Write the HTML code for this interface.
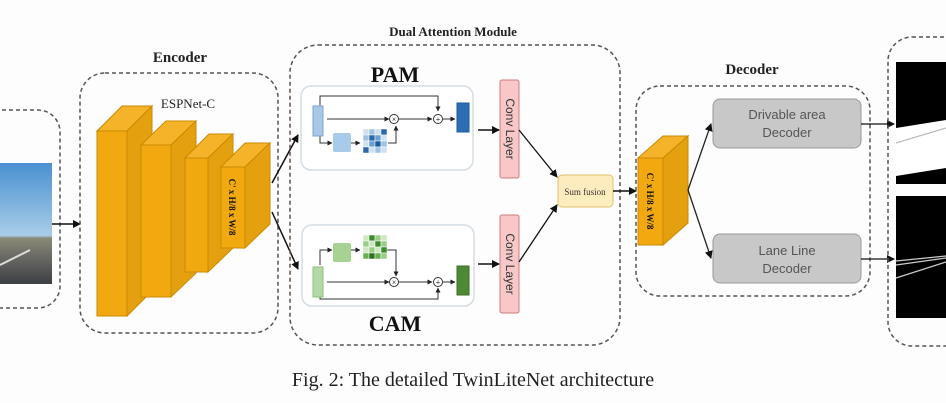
<!DOCTYPE html>
<html><head><meta charset="utf-8"><style>
html,body{margin:0;padding:0;background:#fdfdfd;width:946px;height:403px;overflow:hidden}
svg{display:block}
</style></head><body>
<svg width="946" height="403" viewBox="0 0 946 403" xmlns="http://www.w3.org/2000/svg" font-family="Liberation Serif, serif">
<defs>
<marker id="a" markerWidth="8" markerHeight="8" refX="7" refY="4" orient="auto" markerUnits="userSpaceOnUse"><path d="M0,0 L8,4 L0,8 z" fill="#111"/></marker>
<marker id="s" markerWidth="5" markerHeight="5" refX="4.5" refY="2.5" orient="auto" markerUnits="userSpaceOnUse"><path d="M0,0 L5,2.5 L0,5 z" fill="#222"/></marker>
<linearGradient id="sky" x1="0" y1="0" x2="0" y2="1"><stop offset="0" stop-color="#4a90d0"/><stop offset="0.6" stop-color="#a9cde8"/><stop offset="0.62" stop-color="#8a8a78"/><stop offset="0.75" stop-color="#6f6f68"/><stop offset="1" stop-color="#3c3f44"/></linearGradient>
</defs>
<!-- input -->
<rect x="-20" y="110" width="80" height="198" rx="22" fill="none" stroke="#555" stroke-width="1.5" stroke-dasharray="4,3"/>
<rect x="0" y="163" width="52" height="121" fill="url(#sky)"/>
<line x1="0" y1="265" x2="30" y2="250" stroke="#ddd" stroke-width="2"/>
<line x1="52" y1="224" x2="80" y2="224" stroke="#111" stroke-width="1.5" marker-end="url(#a)"/>
<!-- encoder -->
<text x="180" y="62" font-size="15" font-weight="bold" text-anchor="middle" fill="#222">Encoder</text>
<rect x="80" y="73" width="198" height="260" rx="25" fill="none" stroke="#555" stroke-width="1.5" stroke-dasharray="4,3"/>
<text x="188" y="108" font-size="13" text-anchor="middle" fill="#222">ESPNet-C</text>
<g stroke="#c98a00" stroke-width="1">
<polygon points="97,131 122,106 152,106 127,131" fill="#f5b32a"/><polygon points="127,131 152,106 152,291 127,316" fill="#e5a010"/><rect x="97" y="131" width="30" height="185" fill="#f2a90f"/>
<polygon points="141,145 166,121 196,121 171,145" fill="#f5b32a"/><polygon points="171,145 196,121 196,273 171,297" fill="#e5a010"/><rect x="141" y="145" width="30" height="152" fill="#f2a90f"/>
<polygon points="185,158 209,134 233,134 208,158" fill="#f5b32a"/><polygon points="208,158 233,134 233,248 208,272" fill="#e5a010"/><rect x="185" y="158" width="23" height="114" fill="#f2a90f"/>
<polygon points="221,167 245,143 270,143 245,167" fill="#f5b32a"/><polygon points="245,167 270,143 270,224 245,248" fill="#e5a010"/><rect x="221" y="167" width="24" height="81" fill="#f2a90f"/>
</g>
<text transform="translate(229,207) rotate(90)" font-size="9" font-weight="bold" text-anchor="middle" fill="#111">C' x H/8 x W/8</text>
<line x1="272" y1="183" x2="298" y2="135" stroke="#111" stroke-width="1.5" marker-end="url(#a)"/>
<line x1="272" y1="212" x2="298" y2="269" stroke="#111" stroke-width="1.5" marker-end="url(#a)"/>
<!-- DAM -->
<text x="453" y="36" font-size="13" font-weight="bold" text-anchor="middle" fill="#222">Dual Attention Module</text>
<rect x="290" y="45" width="330" height="300" rx="28" fill="none" stroke="#555" stroke-width="1.5" stroke-dasharray="4,3"/>
<text x="395" y="82" font-size="22" font-weight="bold" text-anchor="middle" fill="#111">PAM</text>
<text x="395" y="331" font-size="22" font-weight="bold" text-anchor="middle" fill="#111">CAM</text>
<rect x="301" y="86" width="172" height="84" rx="10" fill="#fff" stroke="#d4dde4" stroke-width="1.5"/>
<rect x="302" y="225" width="172" height="81" rx="10" fill="#fff" stroke="#d4dde4" stroke-width="1.5"/>
<!-- PAM content -->
<g stroke="#333" stroke-width="1" fill="none">
<polyline points="320,108 320,96 438,96 438,111" marker-end="url(#s)"/>
<line x1="327" y1="119" x2="389" y2="119" marker-end="url(#s)"/>
<line x1="399" y1="119" x2="432" y2="119" marker-end="url(#s)"/>
<line x1="443" y1="119" x2="455" y2="119" marker-end="url(#s)"/>
<polyline points="320,135 320,143 332,143" marker-end="url(#s)"/>
<line x1="350" y1="143" x2="360" y2="143" marker-end="url(#s)"/>
<polyline points="388,143 396,143 396,126" marker-end="url(#s)"/>
</g>
<rect x="313" y="106" width="10" height="30" fill="#a9c8e8" stroke="#7ea5cc"/>
<rect x="333" y="133" width="18" height="19" rx="2" fill="#a9cbea"/>
<g stroke="#fff" stroke-width="0.5">
<rect x="363" y="129" width="6" height="6" fill="#cfe0f2"/><rect x="369" y="129" width="6" height="6" fill="#9ec2e6"/><rect x="375" y="129" width="6" height="6" fill="#cfe0f2"/><rect x="381" y="129" width="6" height="6" fill="#2a66a8"/>
<rect x="363" y="135" width="6" height="6" fill="#9ec2e6"/><rect x="369" y="135" width="6" height="6" fill="#2a66a8"/><rect x="375" y="135" width="6" height="6" fill="#6a9fd2"/><rect x="381" y="135" width="6" height="6" fill="#cfe0f2"/>
<rect x="363" y="141" width="6" height="6" fill="#cfe0f2"/><rect x="369" y="141" width="6" height="6" fill="#6a9fd2"/><rect x="375" y="141" width="6" height="6" fill="#1f5a9a"/><rect x="381" y="141" width="6" height="6" fill="#9ec2e6"/>
<rect x="363" y="147" width="6" height="6" fill="#2a66a8"/><rect x="369" y="147" width="6" height="6" fill="#cfe0f2"/><rect x="375" y="147" width="6" height="6" fill="#9ec2e6"/><rect x="381" y="147" width="6" height="6" fill="#cfe0f2"/>
</g>
<circle cx="394" cy="119" r="4.5" fill="#fff" stroke="#333"/><text x="394" y="122" font-size="8" text-anchor="middle">×</text>
<circle cx="438" cy="119" r="4.5" fill="#fff" stroke="#333"/><text x="438" y="122" font-size="8" text-anchor="middle">+</text>
<rect x="457" y="103" width="12" height="29" fill="#2e6db4" stroke="#1f5a9a"/>
<!-- CAM content -->
<g stroke="#333" stroke-width="1" fill="none">
<polyline points="320,265 320,250 332,250" marker-end="url(#s)"/>
<line x1="350" y1="250" x2="360" y2="250" marker-end="url(#s)"/>
<polyline points="386,250 396,250 396,276" marker-end="url(#s)"/>
<line x1="327" y1="282" x2="389" y2="282" marker-end="url(#s)"/>
<line x1="399" y1="282" x2="432" y2="282" marker-end="url(#s)"/>
<line x1="443" y1="282" x2="455" y2="282" marker-end="url(#s)"/>
<polyline points="320,296 320,299 438,299 438,288" marker-end="url(#s)"/>
</g>
<rect x="313" y="267" width="10" height="30" fill="#b5d9a6" stroke="#8fbf7a"/>
<rect x="333" y="243" width="18" height="19" rx="2" fill="#a6d394"/>
<g stroke="#fff" stroke-width="0.5">
<rect x="363" y="235" width="6" height="6" fill="#cfe8c2"/><rect x="369" y="235" width="6" height="6" fill="#3f8a2e"/><rect x="375" y="235" width="6" height="6" fill="#9ccd86"/><rect x="381" y="235" width="6" height="6" fill="#cfe8c2"/>
<rect x="363" y="241" width="6" height="6" fill="#9ccd86"/><rect x="369" y="241" width="6" height="6" fill="#cfe8c2"/><rect x="375" y="241" width="6" height="6" fill="#3f8a2e"/><rect x="381" y="241" width="6" height="6" fill="#9ccd86"/>
<rect x="363" y="247" width="6" height="6" fill="#cfe8c2"/><rect x="369" y="247" width="6" height="6" fill="#9ccd86"/><rect x="375" y="247" width="6" height="6" fill="#cfe8c2"/><rect x="381" y="247" width="6" height="6" fill="#3f8a2e"/>
<rect x="363" y="253" width="6" height="6" fill="#6ab052"/><rect x="369" y="253" width="6" height="6" fill="#2e7020"/><rect x="375" y="253" width="6" height="6" fill="#6ab052"/><rect x="381" y="253" width="6" height="6" fill="#9ccd86"/>
</g>
<circle cx="394" cy="282" r="4.5" fill="#fff" stroke="#333"/><text x="394" y="285" font-size="8" text-anchor="middle">×</text>
<circle cx="438" cy="282" r="4.5" fill="#fff" stroke="#333"/><text x="438" y="285" font-size="8" text-anchor="middle">+</text>
<rect x="457" y="266" width="12" height="29" fill="#4e8a36" stroke="#3a7025"/>
<!-- conv layers -->
<line x1="478" y1="130" x2="499" y2="130" stroke="#111" stroke-width="1.5" marker-end="url(#a)"/>
<line x1="478" y1="264" x2="499" y2="264" stroke="#111" stroke-width="1.5" marker-end="url(#a)"/>
<rect x="500" y="80" width="19" height="98" rx="2" fill="#f8c8c8" stroke="#d07a7a"/>
<rect x="500" y="215" width="19" height="98" rx="2" fill="#f8c8c8" stroke="#d07a7a"/>
<text transform="translate(506,129) rotate(90)" font-family="Liberation Sans, sans-serif" font-size="12" text-anchor="middle" fill="#333">Conv Layer</text>
<text transform="translate(506,264) rotate(90)" font-family="Liberation Sans, sans-serif" font-size="12" text-anchor="middle" fill="#333">Conv Layer</text>
<line x1="519" y1="130" x2="557" y2="177" stroke="#111" stroke-width="1.3" marker-end="url(#a)"/>
<line x1="519" y1="262" x2="557" y2="205" stroke="#111" stroke-width="1.3" marker-end="url(#a)"/>
<rect x="558" y="175" width="55" height="32" rx="4" fill="#fdedbe" stroke="#e0c070"/>
<text x="585" y="195" font-size="9" text-anchor="middle" fill="#333">Sum fusion</text>
<line x1="613" y1="191" x2="636" y2="191" stroke="#111" stroke-width="1.5" marker-end="url(#a)"/>
<!-- decoder -->
<text x="752" y="74" font-size="15" font-weight="bold" text-anchor="middle" fill="#222">Decoder</text>
<rect x="636" y="86" width="234" height="210" rx="24" fill="none" stroke="#555" stroke-width="1.5" stroke-dasharray="4,3"/>
<g stroke="#c98a00" stroke-width="1">
<polygon points="638,158 663,136 688,136 663,158" fill="#f5b32a"/><polygon points="663,158 688,136 688,223 663,245" fill="#e5a010"/><rect x="638" y="158" width="25" height="87" fill="#f2a90f"/>
</g>
<text transform="translate(647,201) rotate(90)" font-size="9" font-weight="bold" text-anchor="middle" fill="#111">C' x H/8 x W/8</text>
<line x1="688" y1="190" x2="711" y2="124" stroke="#222" stroke-width="1.3" marker-end="url(#a)"/>
<line x1="688" y1="190" x2="711" y2="258" stroke="#222" stroke-width="1.3" marker-end="url(#a)"/>
<rect x="713" y="99" width="148" height="49" rx="7" fill="#c8c8c8" stroke="#999"/>
<rect x="713" y="234" width="148" height="49" rx="7" fill="#c8c8c8" stroke="#999"/>
<g font-family="Liberation Sans, sans-serif" font-size="13" fill="#555" text-anchor="middle">
<text x="787" y="119">Drivable area</text><text x="787" y="137">Decoder</text>
<text x="787" y="255">Lane Line</text><text x="787" y="273">Decoder</text>
</g>
<line x1="861" y1="124" x2="894" y2="124" stroke="#111" stroke-width="1.3" marker-end="url(#a)"/>
<line x1="861" y1="259" x2="894" y2="259" stroke="#111" stroke-width="1.3" marker-end="url(#a)"/>
<!-- output -->
<rect x="888" y="37" width="90" height="309" rx="24" fill="none" stroke="#555" stroke-width="1.5" stroke-dasharray="4,3"/>
<rect x="896" y="62" width="50" height="122" fill="#000"/>
<polygon points="896,128 946,120 946,168 896,176" fill="#fff"/>
<line x1="896" y1="143" x2="946" y2="128" stroke="#bbb" stroke-width="1.2"/>
<rect x="896" y="196" width="50" height="122" fill="#000"/>
<line x1="896" y1="261" x2="946" y2="256" stroke="#ccc" stroke-width="1.2"/>
<line x1="896" y1="265" x2="946" y2="258" stroke="#ccc" stroke-width="1.2"/>
<line x1="896" y1="278" x2="946" y2="262" stroke="#ccc" stroke-width="1.2"/>
<!-- caption -->
<text x="473" y="386" font-size="20" text-anchor="middle" fill="#222">Fig. 2: The detailed TwinLiteNet architecture</text>
</svg>
</body></html>
